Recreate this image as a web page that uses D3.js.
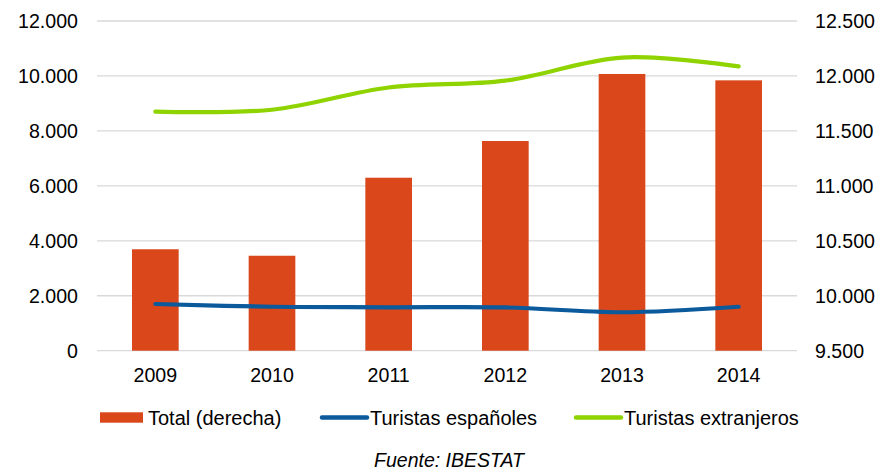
<!DOCTYPE html>
<html>
<head>
<meta charset="utf-8">
<script src="https://cdn.jsdelivr.net/npm/d3@7"></script>
<style>
  body { margin: 0; background: #fff; }
  svg text { font-family: "Liberation Sans", Arial, sans-serif; fill: #000; }
</style>
</head>
<body>
<div id="chart"></div>
<script>
// datos
const years = ['2009', '2010', '2011', '2012', '2013', '2014'];
const total = [10423, 10364, 11074, 11408, 12018, 11960];          // eje derecho
const espanoles = [1700, 1600, 1580, 1575, 1400, 1600];           // eje izquierdo
const extranjeros = [8700, 8770, 9580, 9830, 10670, 10350];       // eje izquierdo
const leftTicks = [0, 2000, 4000, 6000, 8000, 10000, 12000];
const rightTicks = [9500, 10000, 10500, 11000, 11500, 12000, 12500];

const W = 877, H = 469;
const plot = { left: 97, right: 797, top: 21, bottom: 350.7 };

const ORANGE = '#D9471B';
const BLUE = '#0A5A9C';
const GREEN = '#8FD400';
const TICK_SIZE = 19.6;

const fmt = d => d3.format(',')(d).replace(/,/g, '.');

const svg = d3.select('#chart').append('svg')
    .attr('width', W)
    .attr('height', H);

const x = d3.scaleBand()
    .domain(years)
    .range([plot.left, plot.right])
    .paddingInner(0.6)
    .paddingOuter(0.3);

const yL = d3.scaleLinear().domain([0, 12000]).range([plot.bottom, plot.top]);
const yR = d3.scaleLinear().domain([9500, 12500]).range([plot.bottom, plot.top]);

// rejilla
svg.append('g')
    .selectAll('line')
    .data(leftTicks)
    .join('line')
    .attr('x1', plot.left)
    .attr('x2', plot.right)
    .attr('y1', d => yL(d))
    .attr('y2', d => yL(d))
    .attr('stroke', '#d9d9d9')
    .attr('stroke-width', 1.3);

// eje izquierdo
svg.append('g')
    .selectAll('text')
    .data(leftTicks)
    .join('text')
    .attr('x', 78)
    .attr('y', d => yL(d))
    .attr('dy', '0.35em')
    .attr('text-anchor', 'end')
    .attr('font-size', TICK_SIZE)
    .text(fmt);

// eje derecho
svg.append('g')
    .selectAll('text')
    .data(rightTicks)
    .join('text')
    .attr('x', 815)
    .attr('y', d => yR(d))
    .attr('dy', '0.35em')
    .attr('font-size', TICK_SIZE)
    .text(fmt);

// barras (derecha)
svg.append('g')
    .selectAll('rect')
    .data(years)
    .join('rect')
    .attr('x', d => x(d))
    .attr('width', x.bandwidth())
    .attr('y', (d, i) => yR(total[i]))
    .attr('height', (d, i) => plot.bottom - yR(total[i]))
    .attr('fill', ORANGE);

// eje X
svg.append('g')
    .selectAll('text')
    .data(years)
    .join('text')
    .attr('x', d => x(d) + x.bandwidth() / 2)
    .attr('y', 381.5)
    .attr('text-anchor', 'middle')
    .attr('font-size', TICK_SIZE)
    .text(d => d);

// lineas suavizadas
const line = d3.line()
    .x((d, i) => x(years[i]) + x.bandwidth() / 2)
    .y(d => yL(d))
    .curve(d3.curveCatmullRom.alpha(0.5));

svg.append('path')
    .attr('d', line(espanoles))
    .attr('fill', 'none')
    .attr('stroke', BLUE)
    .attr('stroke-width', 4.2)
    .attr('stroke-linecap', 'round');

svg.append('path')
    .attr('d', line(extranjeros))
    .attr('fill', 'none')
    .attr('stroke', GREEN)
    .attr('stroke-width', 4.2)
    .attr('stroke-linecap', 'round');

// leyenda
const legY = 417.5;
const leg = svg.append('g');

leg.append('rect')
    .attr('x', 100).attr('y', 412.3)
    .attr('width', 43).attr('height', 10.4)
    .attr('fill', ORANGE);
leg.append('text')
    .attr('x', 148).attr('y', 425)
    .attr('font-size', 20)
    .text('Total (derecha)');

leg.append('line')
    .attr('x1', 322).attr('x2', 367)
    .attr('y1', legY).attr('y2', legY)
    .attr('stroke', BLUE).attr('stroke-width', 4.5).attr('stroke-linecap', 'round');
leg.append('text')
    .attr('x', 370).attr('y', 425)
    .attr('font-size', 20)
    .text('Turistas españoles');

leg.append('line')
    .attr('x1', 576).attr('x2', 621)
    .attr('y1', legY).attr('y2', legY)
    .attr('stroke', GREEN).attr('stroke-width', 4.5).attr('stroke-linecap', 'round');
leg.append('text')
    .attr('x', 624).attr('y', 425)
    .attr('font-size', 20)
    .text('Turistas extranjeros');

// fuente
svg.append('text')
    .attr('x', 449).attr('y', 466.5)
    .attr('text-anchor', 'middle')
    .attr('font-size', 19.5)
    .attr('font-style', 'italic')
    .text('Fuente: IBESTAT');
</script>
</body>
</html>
